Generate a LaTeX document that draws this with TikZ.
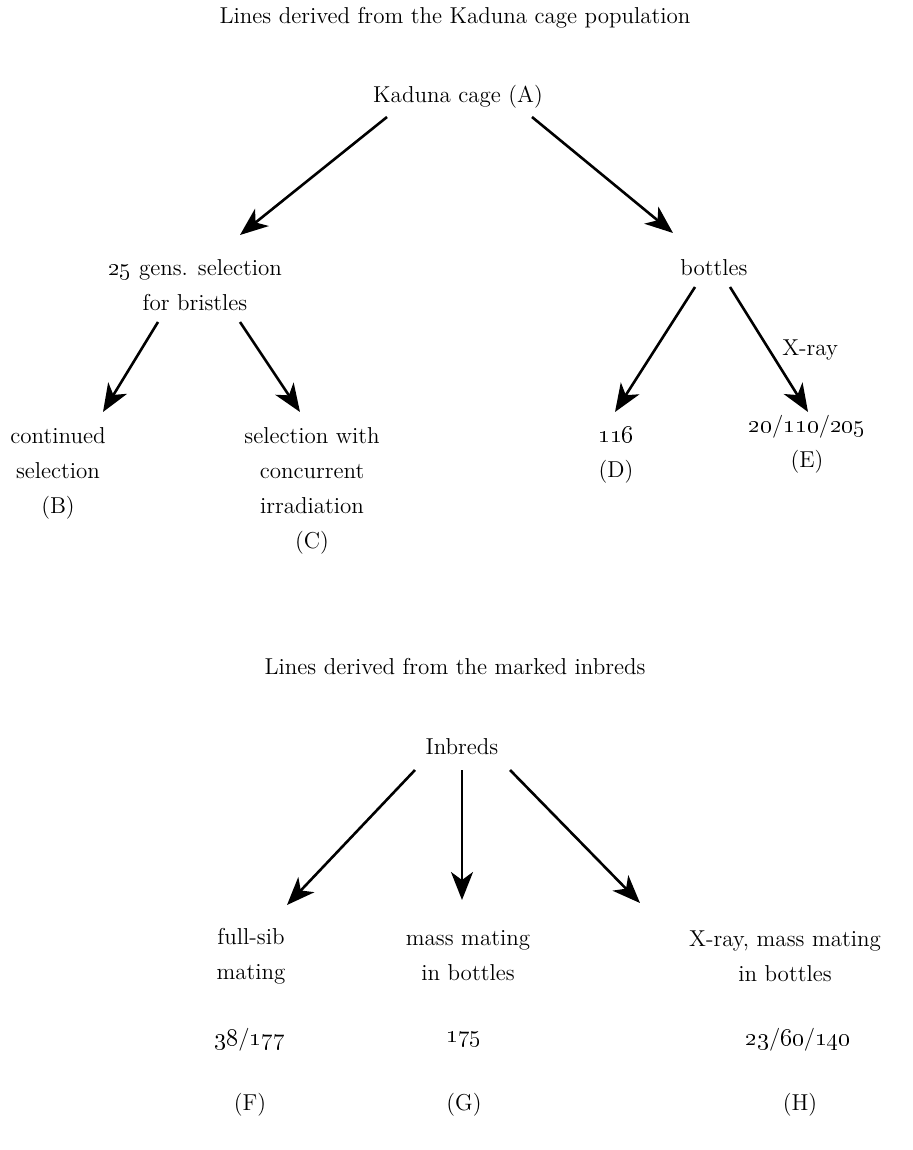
\documentclass[tikz,border=0pt]{standalone}
\usepackage{tikz}
\usetikzlibrary{arrows.meta,calc,positioning}
\newcommand{\osn}[1]{\oldstylenums{#1}}
\tikzset{
  linetext/.style={inner sep=0pt,align=center,
    font=\fontsize{11.5}{17.5}\selectfont},
  lineedge/.style={-{Stealth[length=14pt,width=11pt,inset=4pt]},
    line width=1.3pt}
}

\begin{document}
\begin{tikzpicture}[x=0.5pt,y=-0.5pt]
        \useasboundingbox (0,0) rectangle (912,1150);

        \node[linetext] (kadunahead) at (455,18)
          {Lines derived from the Kaduna cage population};
        \node[linetext] (kaduna) at (458,97) {Kaduna cage (A)};
        \node[linetext] (gens) at (195,285)
          {\osn{25} gens. selection\\for bristles};
        \node[linetext] (bottles) at (714,268) {bottles};
        \node[linetext] (contd) at (58,473)
          {continued\\selection\\(B)};
        \node[linetext] (selwith) at (312,491)
          {selection with\\concurrent\\irradiation\\(C)};
        \node[linetext] (line116) at (616,455) {\osn{116}\\(D)};
        \node[linetext] (line20) at (807,444)
          {\osn{20}/\osn{110}/\osn{205}\\(E)};

        \draw[lineedge] ([shift={(-71,20)}]kaduna.center)
          -- ([shift={(45,-50)}]gens.center);
        \draw[lineedge] ([shift={(74,20)}]kaduna.center)
          -- ([shift={(-41,-35)}]bottles.center);
        \draw[lineedge] ([shift={(-37,37)}]gens.center)
          -- ([shift={(45,-61)}]contd.center);
        \draw[lineedge] ([shift={(45,37)}]gens.center)
          -- ([shift={(-12,-79)}]selwith.center);
        \draw[lineedge] ([shift={(-19,19)}]bottles.center)
          -- ([shift={(-1,-43)}]line116.center);
        \draw[lineedge] ([shift={(16,19)}]bottles.center)
          -- ([shift={(1,-32)}]line20.center)
          node[linetext,pos=0.5,anchor=west,xshift=6pt] (xraylbl) {X-ray};

        \node[linetext] (inbredhead) at (455,667)
          {Lines derived from the marked inbreds};
        \node[linetext] (inbreds) at (462,747) {Inbreds};

        \node[linetext] (fullsib) at (251,956) {full-sib\\mating};
        \node[linetext] (fullsibnum) at (250,1040) {\osn{38}/\osn{177}};
        \node[linetext] (fullsibid) at (250,1105) {(F)};
        \node[linetext] (mass) at (468,956) {mass mating\\in bottles};
        \node[linetext] (massnum) at (464,1040) {\osn{175}};
        \node[linetext] (massid) at (464,1105) {(G)};
        \node[linetext] (xmass) at (785,956)
          {X-ray, mass mating\\in bottles};
        \node[linetext] (xmassnum) at (798,1040)
          {\osn{23}/\osn{60}/\osn{140}};
        \node[linetext] (xmassid) at (800,1105) {(H)};

        \draw[lineedge] ([shift={(-47,23)}]inbreds.center)
          -- ([shift={(36,-51)}]fullsib.center);
        \draw[lineedge] ([shift={(0,23)}]inbreds.center)
          -- ([shift={(-6,-56)}]mass.center);
        \draw[lineedge] ([shift={(48,23)}]inbreds.center)
          -- ([shift={(-145,-53)}]xmass.center);
      \end{tikzpicture}
\end{document}
